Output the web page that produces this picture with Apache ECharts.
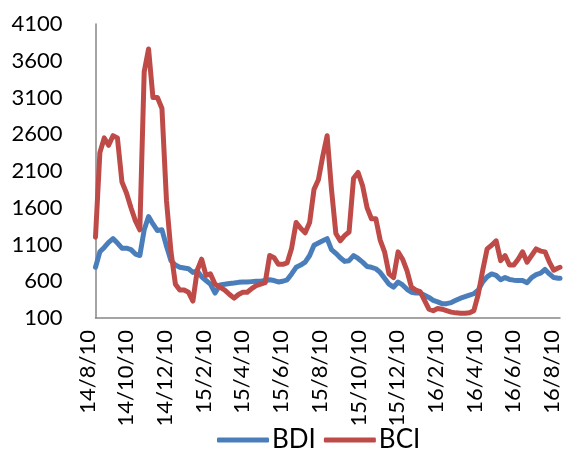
<!DOCTYPE html>
<html>
<head>
<meta charset="utf-8">
<script src="https://cdn.jsdelivr.net/npm/echarts@6/dist/echarts.min.js"></script>
<style>
  html, body { margin: 0; padding: 0; background: #fff; }
  #main { width: 572px; height: 451px; }
</style>
</head>
<body>
<div id="main"></div>
<script>
// weekly readings from 2014-08-10, last entry is 2016-08-10
var startDate = "2014-08-10";
var endDate = "2016-08-10";

var bdi = [
  790, 1000, 1060, 1130, 1180, 1120, 1050, 1050, 1030, 970,
  950, 1300, 1480, 1380, 1290, 1300, 1080, 880, 820, 790,
  780, 770, 720, 740, 660, 610, 560, 440, 550, 560,
  570, 575, 585, 590, 590, 595, 600, 600, 610, 620,
  610, 590, 600, 620, 700, 790, 820, 860, 950, 1090,
  1120, 1150, 1180, 1030, 980, 920, 870, 880, 950, 910,
  860, 800, 790, 770, 720, 640, 560, 520, 590, 550,
  490, 450, 440, 440, 410, 380, 340, 320, 295, 295,
  310, 340, 370, 390, 410, 430, 480, 590, 660, 700,
  680, 620, 650, 625, 615, 610, 610, 580, 650, 690,
  710, 760, 700, 650, 640, 640
];

var bci = [
  1200, 2350, 2550, 2450, 2580, 2550, 1950, 1800, 1600, 1420,
  1300, 3450, 3760, 3100, 3100, 2950, 1700, 1000, 560, 480,
  480, 450, 330, 750, 900, 680, 700, 560, 520, 480,
  420, 370, 420, 450, 450, 500, 540, 560, 580, 950,
  920, 830, 830, 850, 1050, 1400, 1320, 1260, 1400, 1850,
  1980, 2300, 2580, 1850, 1250, 1150, 1220, 1270, 2000, 2080,
  1900, 1600, 1450, 1450, 1160, 1000, 700, 650, 1000, 900,
  740, 520, 480, 460, 340, 220, 200, 230, 220, 200,
  180, 170, 165, 165, 170, 200, 420, 740, 1040, 1090,
  1150, 880, 950, 820, 820, 900, 1000, 860, 950, 1040,
  1010, 1000, 860, 750, 780, 790
];

// position of a date in months after 2014-08-10
function monthPos(t) {
  var d = new Date(t);
  var y = d.getUTCFullYear(), m = d.getUTCMonth();
  if (d.getUTCDate() < 10) m -= 1;
  var a = Date.UTC(y, m, 10), b = Date.UTC(y, m + 1, 10);
  return (y - 2014) * 12 + (m - 7) + (t - a) / (b - a);
}

var t0 = Date.parse(startDate + "T00:00:00Z");
var tEnd = Date.parse(endDate + "T00:00:00Z");
var times = [];
for (var i = 0; i < bdi.length - 1; i++) times.push(t0 + i * 7 * 86400000);
times.push(tEnd);

function toPairs(vals) {
  return vals.map(function (v, i) { return [monthPos(times[i]), v]; });
}

// tick every 2 months -> "yy/m/10"
function tickLabel(v) {
  var mi = 7 + Math.round(v);
  var yy = 14 + Math.floor(mi / 12);
  return yy + "/" + (mi % 12 + 1) + "/10";
}

var font = "Lato";
var myChart = echarts.init(document.getElementById("main"));
myChart.setOption({
  animation: false,
  textStyle: { fontFamily: font },
  grid: { left: 95.5, right: 12, top: 24, bottom: 133 },
  legend: {
    left: 212,
    top: 422,
    itemWidth: 52,
    itemHeight: 5,
    itemGap: 8,
    icon: "roundRect",
    textStyle: { fontSize: 26, color: "#000", fontFamily: font, padding: [0, 0, 0, -2] },
    data: ["BDI", "BCI"]
  },
  xAxis: {
    type: "value",
    min: 0,
    max: 24,
    interval: 2,
    splitLine: { show: false },
    axisTick: { show: false },
    axisLine: { lineStyle: { color: "#868686", width: 1.5 } },
    axisLabel: {
      rotate: 90,
      margin: 12,
      fontSize: 22,
      color: "#000",
      fontFamily: font,
      verticalAlign: "bottom",
      lineHeight: 16,
      showMinLabel: true,
      showMaxLabel: true,
      formatter: tickLabel
    }
  },
  yAxis: {
    type: "value",
    min: 100,
    max: 4100,
    interval: 500,
    splitLine: { show: false },
    axisTick: { show: false },
    axisLine: { show: true, lineStyle: { color: "#868686", width: 1.5 } },
    axisLabel: {
      margin: 33,
      fontSize: 22,
      color: "#000",
      fontFamily: font,
      formatter: function (v) { return String(v); }
    }
  },
  series: [
    {
      name: "BDI",
      type: "line",
      data: toPairs(bdi),
      showSymbol: false,
      lineStyle: { color: "#4a7ebb", width: 5, join: "round", cap: "round" },
      itemStyle: { color: "#4a7ebb" }
    },
    {
      name: "BCI",
      type: "line",
      data: toPairs(bci),
      showSymbol: false,
      lineStyle: { color: "#be4b48", width: 5, join: "round", cap: "round" },
      itemStyle: { color: "#be4b48" }
    }
  ]
});
</script>
</body>
</html>
